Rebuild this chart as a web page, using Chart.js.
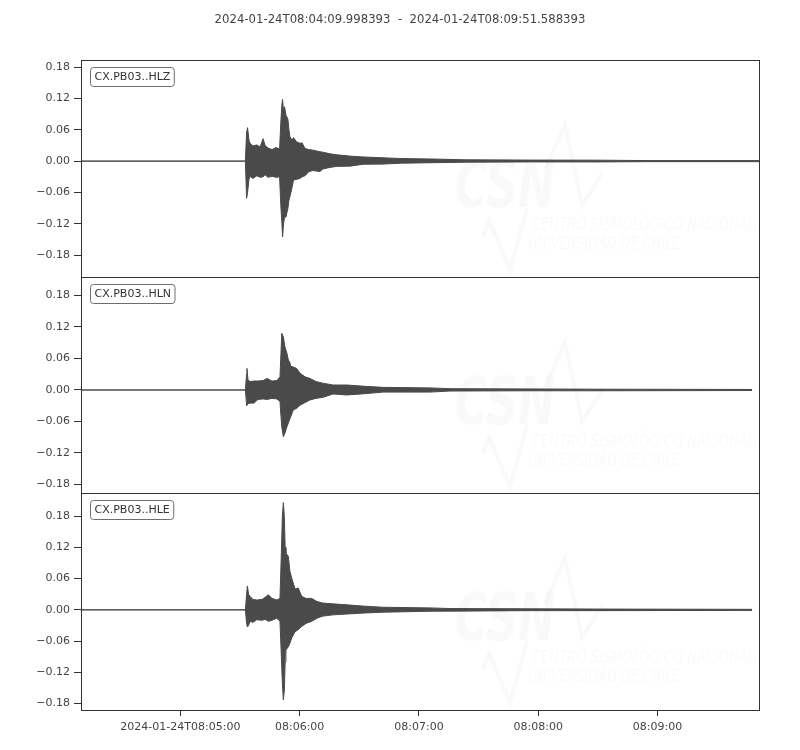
<!DOCTYPE html>
<html>
<head>
<meta charset="utf-8">
<script src="https://cdn.jsdelivr.net/npm/chart.js@4.4.1/dist/chart.umd.min.js"></script>
<style>
  body { margin: 0; background: #fff; }
  #wrap { position: relative; width: 800px; height: 750px; }
  #wrap canvas { position: absolute; left: 0; top: 0; }
</style>
</head>
<body>
<div id="wrap">
  <canvas id="c1" width="800" height="750"></canvas>
  <canvas id="c2" width="800" height="750"></canvas>
  <canvas id="c3" width="800" height="750"></canvas>
</div>
<script>
// title / labels
const plotTitle = '2024-01-24T08:04:09.998393  -  2024-01-24T08:09:51.588393';
const traceIds = ['CX.PB03..HLZ', 'CX.PB03..HLN', 'CX.PB03..HLE'];

// x in seconds after 08:04:09.998393, ticks at whole minutes
const xMax = 341.59;
const xTickSeconds = [50.0016, 110.0016, 170.0016, 230.0016, 290.0016];
const xTickLabels = ['2024-01-24T08:05:00', '08:06:00', '08:07:00', '08:08:00', '08:09:00'];
const yTicks = [-0.18, -0.12, -0.06, 0, 0.06, 0.12, 0.18];

// envelope (max / min) of each trace
const hlzTime  = [0, 82.7, 83.3, 83.8, 84.5, 85.0, 86.5, 88.5, 90.1, 91.6, 92.6, 94.1, 96.1, 98.1, 99.9, 100.6, 101.1, 101.4, 101.9, 102.4, 103.1, 104.1, 104.6, 105.1, 106.2, 106.9, 108.4, 110.2, 111.2, 112.7, 114.7, 116.7, 120.2, 121.7, 125.3, 128.8, 135.3, 141.9, 151.9, 160.5, 177.1, 194.2, 225.9, 261.1, 286.3, 341.6];
const hlzUpper = [0, 0, 0.055, 0.064, 0.040, 0.034, 0.029, 0.031, 0.027, 0.043, 0.030, 0.025, 0.022, 0.026, 0.023, 0.080, 0.110, 0.118, 0.095, 0.104, 0.088, 0.080, 0.060, 0.047, 0.040, 0.045, 0.037, 0.034, 0.035, 0.024, 0.022, 0.021, 0.018, 0.017, 0.014, 0.012, 0.0096, 0.008, 0.0064, 0.005, 0.004, 0.0025, 0.002, 0.0018, 0.001, 0.001];
const hlzLower = [0, 0, -0.071, -0.060, -0.035, -0.029, -0.033, -0.028, -0.031, -0.030, -0.026, -0.031, -0.029, -0.031, -0.030, -0.090, -0.120, -0.145, -0.120, -0.107, -0.107, -0.090, -0.075, -0.068, -0.050, -0.036, -0.035, -0.033, -0.030, -0.028, -0.020, -0.018, -0.020, -0.015, -0.012, -0.010, -0.0096, -0.006, -0.0057, -0.004, -0.003, -0.002, -0.0015, -0.0015, -0.001, -0.001];

const hlnTime  = [0, 82.7, 83.3, 83.5, 84.0, 85.0, 87.0, 89.0, 91.6, 93.6, 96.1, 98.6, 100.1, 100.6, 101.0, 101.8, 102.6, 103.6, 104.3, 104.9, 105.6, 106.8, 108.5, 110.2, 112.7, 115.2, 118.2, 121.7, 126.8, 133.8, 142.9, 151.9, 175.6, 185.6, 225.9, 261.1, 337.6];
const hlnUpper = [0, 0, 0.030, 0.041, 0.020, 0.016, 0.017, 0.017, 0.018, 0.022, 0.017, 0.018, 0.025, 0.070, 0.108, 0.101, 0.082, 0.070, 0.057, 0.054, 0.045, 0.044, 0.041, 0.032, 0.025, 0.022, 0.016, 0.013, 0.0095, 0.0095, 0.007, 0.005, 0.004, 0.0025, 0.002, 0.0015, 0.001];
const hlnLower = [0, 0, -0.030, -0.030, -0.026, -0.025, -0.025, -0.018, -0.017, -0.018, -0.016, -0.017, -0.022, -0.050, -0.070, -0.089, -0.082, -0.070, -0.063, -0.057, -0.050, -0.038, -0.035, -0.029, -0.024, -0.019, -0.016, -0.014, -0.0076, -0.0095, -0.007, -0.004, -0.004, -0.002, -0.0015, -0.0015, -0.001];

const hleTime  = [0, 82.7, 83.3, 83.7, 84.3, 85.0, 86.5, 88.4, 91.1, 92.6, 94.2, 96.1, 98.5, 100.1, 100.8, 101.3, 101.8, 102.3, 102.7, 103.1, 104.3, 105.1, 106.0, 107.7, 109.3, 111.0, 113.2, 116.1, 118.7, 121.7, 126.8, 133.8, 142.9, 151.9, 175.6, 185.6, 225.9, 261.1, 337.6];
const hleUpper = [0, 0, 0.030, 0.046, 0.030, 0.026, 0.020, 0.019, 0.020, 0.024, 0.029, 0.022, 0.019, 0.022, 0.110, 0.180, 0.206, 0.179, 0.120, 0.109, 0.103, 0.074, 0.061, 0.040, 0.042, 0.026, 0.022, 0.022, 0.016, 0.013, 0.0115, 0.0096, 0.007, 0.005, 0.0038, 0.0025, 0.002, 0.0015, 0.001];
const hleLower = [0, 0, -0.025, -0.033, -0.030, -0.022, -0.024, -0.019, -0.020, -0.018, -0.022, -0.020, -0.016, -0.022, -0.090, -0.140, -0.173, -0.154, -0.100, -0.077, -0.071, -0.064, -0.054, -0.042, -0.038, -0.032, -0.026, -0.022, -0.016, -0.012, -0.0096, -0.008, -0.006, -0.0045, -0.0026, -0.0025, -0.0015, -0.0015, -0.001];

// y limits of each panel
const yLimits = [[-0.2216, 0.1934], [-0.1962, 0.2152], [-0.1923, 0.2244]];

const FONT = 'DejaVu Sans';
const traceColor = '#4a4a4a';
const spineColor = '#333333';
const textColor = '#444444';

function pts(t, v) {
  return t.map((x, i) => ({ x: x, y: v[i] }));
}

function drawFit(ctx, txt, x, y, width) {
  const w = ctx.measureText(txt).width;
  ctx.save();
  ctx.translate(x, y);
  ctx.scale(width / w, 1);
  ctx.fillText(txt, 0, 0);
  ctx.restore();
}

// frame, label box and faint CSN watermark
const panelDeco = {
  id: 'panelDeco',
  beforeDatasetsDraw(chart) {
    const a = chart.chartArea;
    const ctx = chart.ctx;
    ctx.save();
    ctx.beginPath();
    ctx.rect(a.left, a.top, a.right - a.left, a.bottom - a.top);
    ctx.clip();
    const oy = a.top;
    const faint = 'rgba(0,0,0,0.022)';
    ctx.strokeStyle = faint;
    ctx.lineWidth = 4;
    ctx.beginPath();
    ctx.moveTo(483, oy + 177);
    ctx.lineTo(489, oy + 160);
    ctx.lineTo(510, oy + 210);
    ctx.lineTo(527, oy + 148);
    ctx.stroke();
    ctx.beginPath();
    ctx.moveTo(545, oy + 110);
    ctx.lineTo(565, oy + 65);
    ctx.lineTo(582, oy + 145);
    ctx.lineTo(602, oy + 113);
    ctx.stroke();
    ctx.fillStyle = faint;
    ctx.textBaseline = 'alphabetic';
    ctx.textAlign = 'left';
    ctx.font = 'italic bold 66px ' + FONT;
    drawFit(ctx, 'CSN', 455, oy + 147, 100);
    ctx.font = 'italic 17px ' + FONT;
    drawFit(ctx, 'CENTRO SISMOLÓGICO NACIONAL', 532, oy + 170, 223);
    drawFit(ctx, 'UNIVERSIDAD DE CHILE', 528, oy + 189, 152);
    ctx.restore();
  },
  afterDraw(chart, args, opts) {
    const a = chart.chartArea;
    const ctx = chart.ctx;
    ctx.save();
    ctx.strokeStyle = spineColor;
    ctx.lineWidth = 1;
    ctx.strokeRect(Math.round(a.left) + 0.5, Math.round(a.top) + 0.5,
      Math.round(a.right - a.left) - 1, Math.round(a.bottom - a.top));
    // trace id box
    ctx.font = '11px ' + FONT;
    const w = ctx.measureText(opts.label).width + 8;
    const bx = a.left + 9.5, by = a.top + 7.5, bh = 19;
    ctx.beginPath();
    ctx.roundRect(bx, by, w, bh, 3);
    ctx.fillStyle = '#fff';
    ctx.fill();
    ctx.strokeStyle = '#6e6e6e';
    ctx.stroke();
    ctx.fillStyle = '#333';
    ctx.textBaseline = 'middle';
    ctx.fillText(opts.label, bx + 4, by + bh / 2 + 0.5);
    if (opts.title) {
      ctx.font = '11.7px ' + FONT;
      ctx.textAlign = 'center';
      ctx.fillStyle = textColor;
      ctx.fillText(opts.title, 400, 20);
    }
    ctx.restore();
  }
};

function makePanel(id, times, upper, lower, k, top, bottom, showX) {
  new Chart(document.getElementById(id), {
    type: 'line',
    data: {
      datasets: [
        { data: pts(times, upper), borderColor: traceColor, backgroundColor: traceColor,
          borderWidth: 1, pointRadius: 0, fill: '+1', tension: 0 },
        { data: pts(times, lower), borderColor: traceColor, backgroundColor: traceColor,
          borderWidth: 1, pointRadius: 0, fill: false, tension: 0 }
      ]
    },
    options: {
      responsive: false,
      animation: false,
      devicePixelRatio: 1,
      layout: { padding: { top: top, left: 0, right: 40, bottom: showX ? 0 : 750 - bottom } },
      plugins: {
        legend: { display: false },
        tooltip: { enabled: false },
        panelDeco: { label: traceIds[k], title: k === 0 ? plotTitle : null }
      },
      scales: {
        x: {
          type: 'linear',
          display: showX,
          min: 0,
          max: xMax,
          afterBuildTicks: s => { s.ticks = xTickSeconds.map(v => ({ value: v })); },
          afterFit: s => { if (showX) s.height = 750 - bottom; },
          grid: { drawOnChartArea: false, drawTicks: true, tickLength: 6, color: spineColor },
          border: { display: false },
          ticks: {
            autoSkip: false, maxRotation: 0, padding: 5,
            color: textColor, font: { family: FONT, size: 11 },
            callback: (v, i) => xTickLabels[i]
          }
        },
        y: {
          type: 'linear',
          min: yLimits[k][0],
          max: yLimits[k][1],
          afterBuildTicks: s => { s.ticks = yTicks.map(v => ({ value: v })); },
          afterFit: s => { s.width = 81; },
          grid: { drawOnChartArea: false, drawTicks: true, tickLength: 7, color: spineColor },
          border: { display: false },
          ticks: {
            padding: 4,
            color: textColor, font: { family: FONT, size: 11 },
            callback: v => (v < 0 ? '\u2212' : '') + Math.abs(v).toFixed(2)
          }
        }
      }
    },
    plugins: [panelDeco]
  });
}

makePanel('c1', hlzTime, hlzUpper, hlzLower, 0, 60, 277, false);
makePanel('c2', hlnTime, hlnUpper, hlnLower, 1, 277, 493, false);
makePanel('c3', hleTime, hleUpper, hleLower, 2, 493, 710, true);
</script>
</body>
</html>
